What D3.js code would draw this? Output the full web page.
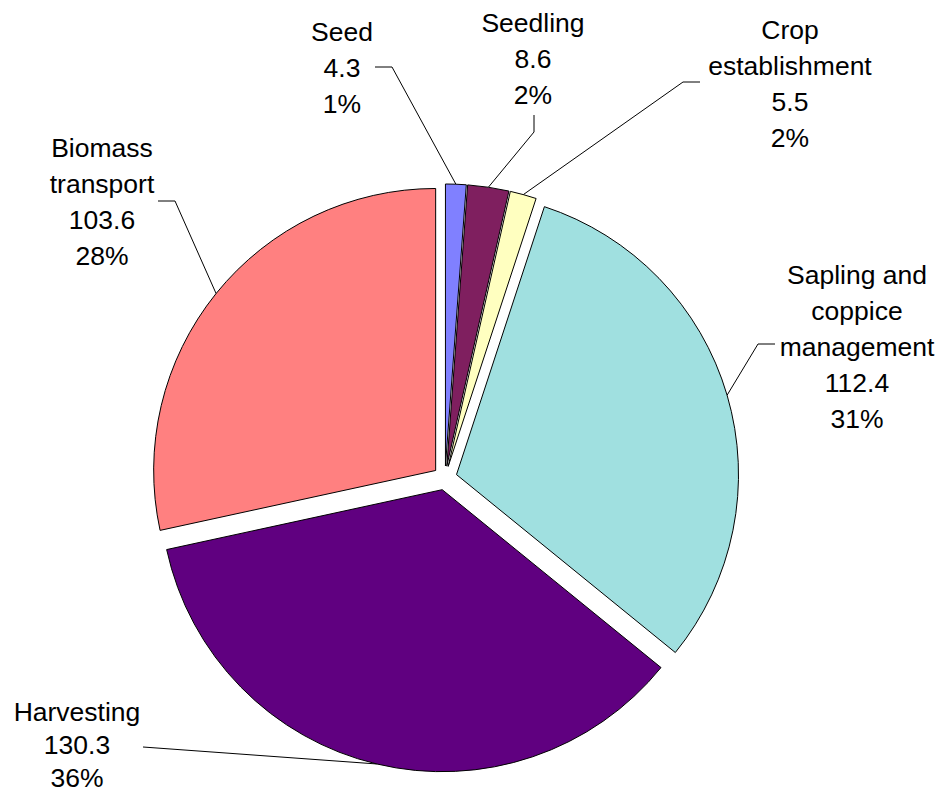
<!DOCTYPE html>
<html>
<head>
<meta charset="utf-8">
<script src="https://cdn.jsdelivr.net/npm/d3@7"></script>
<style>
  html, body { margin: 0; padding: 0; background: #fff; }
  svg text { font-family: "Liberation Sans", Arial, sans-serif; font-size: 26.5px; fill: #000; }
</style>
</head>
<body>
<svg id="chart" width="943" height="794"></svg>
<script>
  // data
  const categories = ['Seed', 'Seedling', 'Crop establishment', 'Sapling and coppice management', 'Harvesting', 'Biomass transport']
  const values = [4.3, 8.6, 5.5, 112.4, 130.3, 103.6]
  const percents = ['1%', '2%', '2%', '31%', '36%', '28%']
  // label text lines (category wrapped as in the picture)
  const labelLines = [
    ['Seed'],
    ['Seedling'],
    ['Crop', 'establishment'],
    ['Sapling and', 'coppice', 'management'],
    ['Harvesting'],
    ['Biomass', 'transport']
  ]
  const colors = ['#8080FF', '#7F1F5F', '#FFFFC0', '#A0E0E0', '#600080', '#FF8080']

  // layout
  const W = 943, H = 794
  const cx = 445, cy = 478
  const R = 282
  const explode = 12

  // label block: centre x, first line baseline y, line step, elbow of leader line
  const labelPos = [
    { x: 342, y: 41, step: 36, elbow: [[375, 67], [392, 67]] },
    { x: 533, y: 32, step: 36, elbow: [[534, 115], [534, 132]] },
    { x: 790, y: 39, step: 36, elbow: [[700, 82], [683, 82]] },
    { x: 857, y: 284, step: 36, elbow: [[775, 344], [758, 344]] },
    { x: 77, y: 721, step: 33, elbow: [[143, 747]] },
    { x: 102, y: 157, step: 36, elbow: [[158, 201], [175, 201]] }
  ]

  const svg = d3.select('#chart')

  const pie = d3.pie().sort(null).value(d => d)
  const arcs = pie(values)
  const arc = d3.arc().innerRadius(0).outerRadius(R)

  const g = svg.append('g').attr('transform', `translate(${cx},${cy})`)

  // slices, each pushed out along its bisector
  g.selectAll('path.slice')
    .data(arcs)
    .enter()
    .append('path')
    .attr('class', 'slice')
    .attr('d', arc)
    .attr('transform', d => {
      const a = (d.startAngle + d.endAngle) / 2
      return `translate(${explode * Math.sin(a)},${-explode * Math.cos(a)})`
    })
    .attr('fill', (d, i) => colors[i])
    .attr('stroke', '#000')
    .attr('stroke-width', 1)

  // leader lines: from label elbow to middle of the slice's arc
  const line = d3.line()
  arcs.forEach((d, i) => {
    const a = (d.startAngle + d.endAngle) / 2
    const r = R + explode
    const end = [cx + r * Math.sin(a), cy - r * Math.cos(a)]
    const pts = labelPos[i].elbow.concat([end])
    svg.append('path')
      .attr('d', line(pts))
      .attr('fill', 'none')
      .attr('stroke', '#000')
      .attr('stroke-width', 1)
  })

  // labels
  arcs.forEach((d, i) => {
    const lines = labelLines[i].concat([String(values[i]), percents[i]])
    const t = svg.append('text')
      .attr('text-anchor', 'middle')
      .attr('x', labelPos[i].x)
      .attr('y', labelPos[i].y)
    lines.forEach((s, k) => {
      t.append('tspan')
        .attr('x', labelPos[i].x)
        .attr('dy', k === 0 ? 0 : labelPos[i].step)
        .text(s)
    })
  })
</script>
</body>
</html>
